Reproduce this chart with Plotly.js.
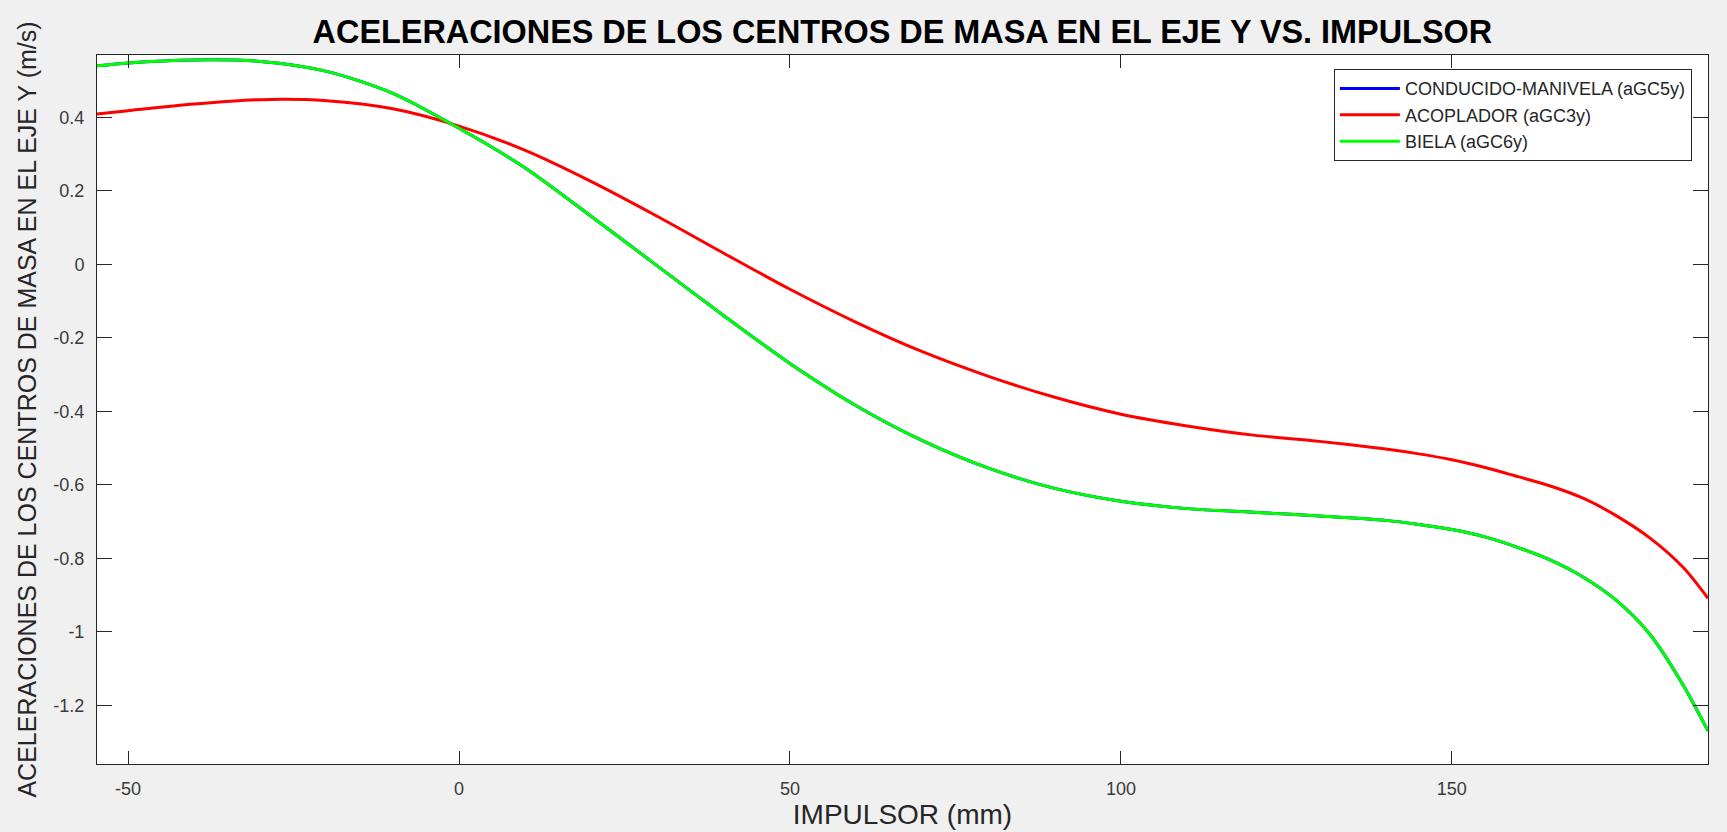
<!DOCTYPE html>
<html>
<head>
<meta charset="utf-8">
<script src="https://cdn.plot.ly/plotly-3.0.1.min.js"></script>
<style>
html,body{margin:0;padding:0;background:#f0f0f0;}
#chart{width:1727px;height:832px;}
</style>
</head>
<body>
<div id="chart"></div>
<script>
// IMPULSOR (mm)
const impulsor = [-54.7, -50, -40, -30, -20, -10, 0, 10, 20, 30, 40, 50, 60, 70, 80, 90, 100, 110, 120, 130, 140, 145, 150, 155, 160, 165, 170, 175, 180, 185, 188.7];
// ACOPLADOR (aGC3y)
const aGC3y = [0.409, 0.418, 0.436, 0.448, 0.445, 0.423, 0.376, 0.31, 0.225, 0.13, 0.03, -0.068, -0.158, -0.238, -0.305, -0.362, -0.408, -0.44, -0.465, -0.482, -0.503, -0.516, -0.532, -0.553, -0.578, -0.604, -0.638, -0.686, -0.746, -0.826, -0.909];
// BIELA (aGC6y)
const aGC6y = [0.54, 0.548, 0.556, 0.552, 0.525, 0.465, 0.37, 0.262, 0.13, -0.005, -0.14, -0.27, -0.385, -0.48, -0.555, -0.61, -0.645, -0.665, -0.675, -0.685, -0.697, -0.708, -0.722, -0.742, -0.771, -0.806, -0.853, -0.917, -1.009, -1.147, -1.27];
// CONDUCIDO-MANIVELA (aGC5y) - coincides with BIELA, hidden under it
const aGC5y = [0.54, 0.548, 0.556, 0.552, 0.525, 0.465, 0.37, 0.262, 0.13, -0.005, -0.14, -0.27, -0.385, -0.48, -0.555, -0.61, -0.645, -0.665, -0.675, -0.685, -0.697, -0.708, -0.722, -0.742, -0.771, -0.806, -0.853, -0.917, -1.009, -1.147, -1.27];

const xTickVals = [-50, 0, 50, 100, 150];
const xTickText = ['-50', '0', '50', '100', '150'];
const yTickVals = [-1.2, -1, -0.8, -0.6, -0.4, -0.2, 0, 0.2, 0.4];
const yTickText = ['-1.2', '-1', '-0.8', '-0.6', '-0.4', '-0.2', '0', '0.2', '0.4'];

const FONT = 'Liberation Sans, Arial, Helvetica, sans-serif';
const AX = '#262626';

const traces = [
  {x: impulsor, y: aGC5y, name: 'CONDUCIDO-MANIVELA (aGC5y)', mode: 'lines', line: {color: '#0000ff', width: 3, shape: 'spline', smoothing: 0.8}},
  {x: impulsor, y: aGC3y, name: 'ACOPLADOR (aGC3y)', mode: 'lines', line: {color: '#ff0000', width: 3, shape: 'spline', smoothing: 0.8}},
  {x: impulsor, y: aGC6y, name: 'BIELA (aGC6y)', mode: 'lines', line: {color: '#00ff00', width: 3, shape: 'spline', smoothing: 0.8}}
];

const layout = {
  width: 1727, height: 832,
  paper_bgcolor: '#f0f0f0',
  plot_bgcolor: '#ffffff',
  margin: {l: 97, r: 19, t: 55, b: 68},
  font: {family: FONT, color: AX},
  title: {
    text: '<b>ACELERACIONES DE LOS CENTROS DE MASA EN EL EJE Y VS. IMPULSOR</b>',
    font: {family: FONT, size: 32.4, color: '#000000'},
    x: 0.5225, xref: 'container', xanchor: 'center',
    y: 0.962, yref: 'container', yanchor: 'middle'
  },
  xaxis: {
    range: [-54.7, 188.7],
    tickvals: xTickVals, ticktext: xTickText,
    ticks: 'inside', ticklen: 13, tickwidth: 1, tickcolor: AX,
    showline: true, linecolor: AX, linewidth: 1, mirror: 'ticks',
    showgrid: false, zeroline: false,
    ticklabelstandoff: 8,
    tickfont: {family: FONT, size: 18, color: '#3a3a3a'},
    title: {text: 'IMPULSOR (mm)', font: {family: FONT, size: 28, color: '#262626'}, standoff: 5}
  },
  yaxis: {
    range: [-1.36, 0.5695],
    tickvals: yTickVals, ticktext: yTickText,
    ticks: 'inside', ticklen: 15, tickwidth: 1, tickcolor: AX,
    showline: true, linecolor: AX, linewidth: 1, mirror: 'ticks',
    showgrid: false, zeroline: false,
    ticklabelstandoff: 8,
    tickfont: {family: FONT, size: 18, color: '#3a3a3a'},
    title: {text: 'ACELERACIONES DE LOS CENTROS DE MASA EN EL EJE Y (m/s)', font: {family: FONT, size: 25, color: '#262626'}, standoff: 9}
  },
  legend: {
    x: 0.990, xanchor: 'right', y: 0.980, yanchor: 'top',
    bgcolor: '#ffffff', bordercolor: AX, borderwidth: 1,
    font: {family: FONT, size: 18, color: '#262626'},
    itemwidth: 60, tracegroupgap: 0
  },
  showlegend: true
};

Plotly.newPlot('chart', traces, layout, {displayModeBar: false, staticPlot: true});
</script>
</body>
</html>
